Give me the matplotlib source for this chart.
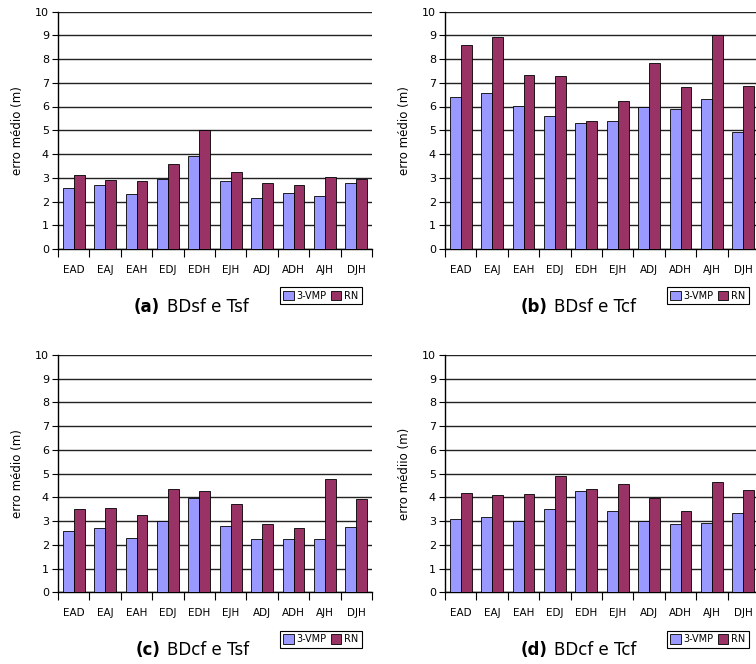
import matplotlib
matplotlib.use("Agg")
import matplotlib.pyplot as plt
import numpy as np

# categorias e valores (erro medio em metros)
categorias = ['EAD', 'EAJ', 'EAH', 'EDJ', 'EDH', 'EJH', 'ADJ', 'ADH', 'AJH', 'DJH']

vmp_a = [2.58, 2.68, 2.33, 2.93, 3.91, 2.86, 2.16, 2.37, 2.24, 2.80]
rn_a = [3.13, 2.89, 2.85, 3.58, 5.02, 3.23, 2.78, 2.68, 3.03, 2.96]

vmp_b = [6.38, 6.55, 6.02, 5.58, 5.32, 5.37, 5.96, 5.90, 6.31, 4.91]
rn_b = [8.60, 8.92, 7.31, 7.28, 5.39, 6.24, 7.83, 6.83, 8.99, 6.88]

vmp_c = [2.57, 2.70, 2.29, 2.99, 3.97, 2.79, 2.26, 2.26, 2.25, 2.75]
rn_c = [3.50, 3.54, 3.27, 4.37, 4.27, 3.72, 2.87, 2.70, 4.76, 3.92]

vmp_d = [3.09, 3.17, 3.02, 3.51, 4.28, 3.42, 2.99, 2.88, 2.94, 3.36]
rn_d = [4.17, 4.09, 4.16, 4.90, 4.35, 4.58, 3.99, 3.44, 4.63, 4.30]

letras = ['(a)', '(b)', '(c)', '(d)']
titulos = ['BDsf e Tsf', 'BDsf e Tcf', 'BDcf e Tsf', 'BDcf e Tcf']
ylabels = ['erro médio (m)', 'erro médio (m)', 'erro médio (m)', 'erro médiio (m)']
series = [(vmp_a, rn_a), (vmp_b, rn_b), (vmp_c, rn_c), (vmp_d, rn_d)]

cor_vmp = '#9999ff'
cor_rn = '#993366'

W, H = 756, 664
fig = plt.figure(figsize=(W / 100, H / 100), dpi=100)

# posicao dos eixos em pixels: (esquerda, topo, base)
posicoes = [(58, 11.5, 249), (445, 11.5, 249), (58, 355, 592.3), (445, 355, 592.3)]
largura = 314

x = np.arange(len(categorias)) + 0.5
w = 0.35

for i, (left, top, base) in enumerate(posicoes):
    ax = fig.add_axes([left / W, (H - base) / H, largura / W, (base - top) / H])
    vmp, rn = series[i]
    ax.bar(x - w / 2, vmp, w, color=cor_vmp, edgecolor='black', linewidth=0.6, label='3-VMP', zorder=3)
    ax.bar(x + w / 2, rn, w, color=cor_rn, edgecolor='black', linewidth=0.6, label='RN', zorder=3)

    ax.set_xlim(0, len(categorias))
    ax.set_ylim(0, 10)
    ax.set_yticks(range(0, 11))
    ax.yaxis.grid(True, color='#222222', linewidth=1.0, zorder=0)
    ax.set_axisbelow(True)

    # ticks nas fronteiras, rotulos no centro
    ax.set_xticks(range(0, len(categorias) + 1))
    ax.set_xticklabels([])
    ax.set_xticks(x, minor=True)
    ax.set_xticklabels(categorias, minor=True, fontsize=7.5)
    ax.tick_params(axis='x', which='major', length=6, width=0.8, direction='out')
    ax.tick_params(axis='x', which='minor', length=0, pad=11.5)
    ax.tick_params(axis='y', length=4.5, width=0.8, pad=2, labelsize=8)

    for s in ['top', 'right']:
        ax.spines[s].set_visible(False)
    ax.spines['left'].set_linewidth(1.0)
    ax.spines['bottom'].set_linewidth(1.0)

    ax.set_ylabel(ylabels[i], fontsize=8.5)
    ax.yaxis.set_label_coords(-0.108, 0.5)

    leg = ax.legend(loc='upper right', bbox_to_anchor=(0.968, -0.162), ncol=2,
                    fontsize=7, handlelength=1.1, handleheight=1.1,
                    handletextpad=0.3, columnspacing=0.4, borderpad=0.35,
                    borderaxespad=0, fancybox=False, framealpha=1)
    leg.get_frame().set_edgecolor('black')
    leg.get_frame().set_linewidth(0.8)

    # legenda do painel
    yc = -(58 / (base - top))
    ax.text(0.325, yc, letras[i], transform=ax.transAxes, ha='right', va='center',
            fontsize=12, fontweight='bold')
    ax.text(0.347, yc, titulos[i], transform=ax.transAxes, ha='left', va='center',
            fontsize=12)

fig.savefig('out.png', dpi=100)
